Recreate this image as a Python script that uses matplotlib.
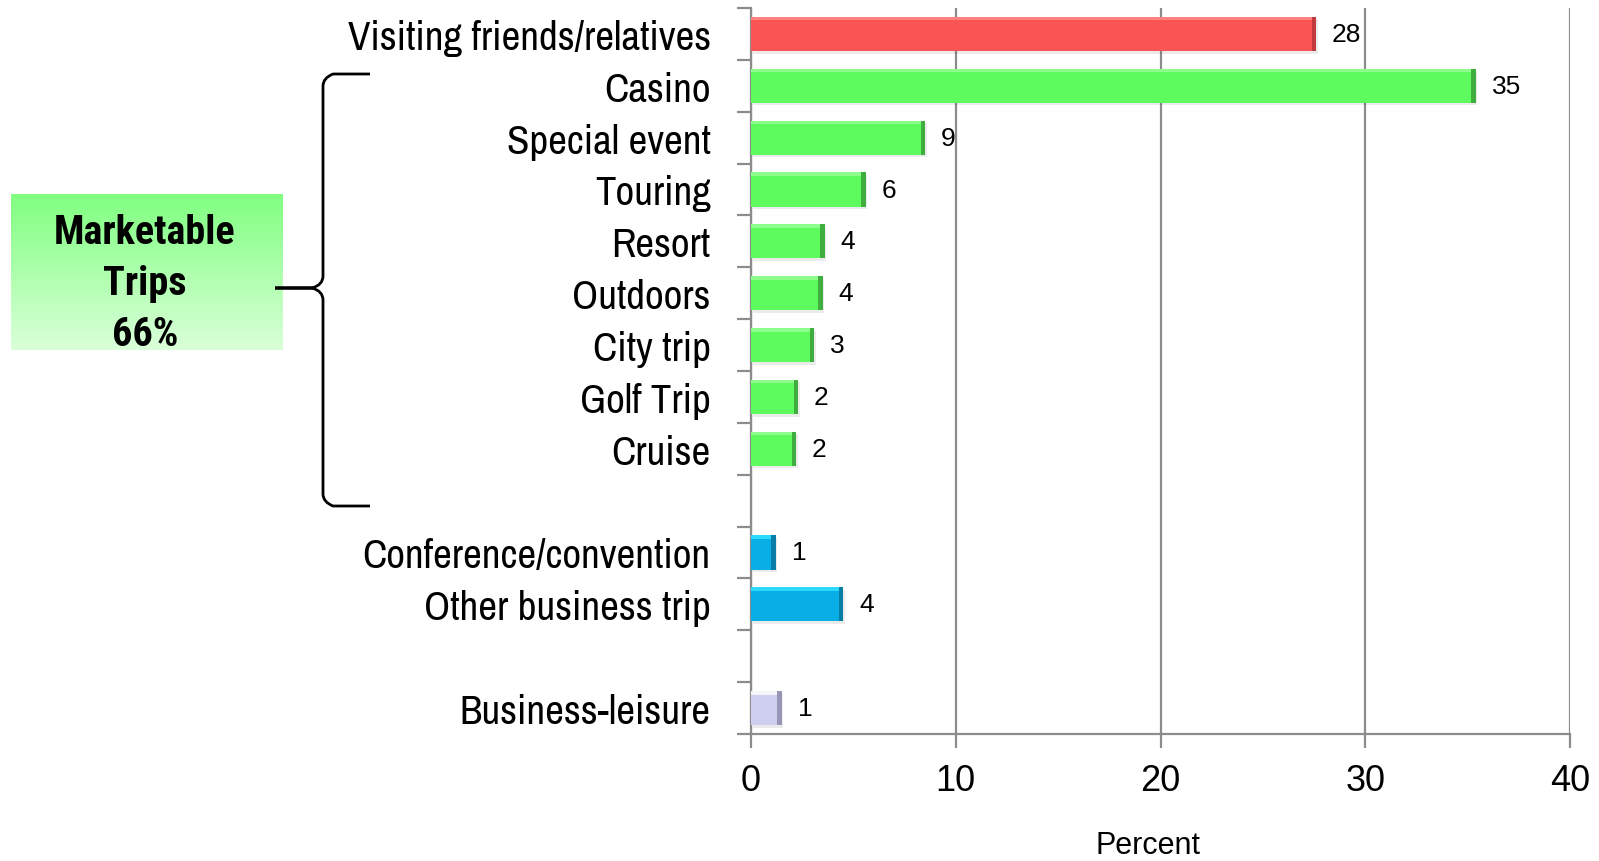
import matplotlib

matplotlib.use("Agg")  # no display
import matplotlib.pyplot as plt
import numpy as np
from matplotlib.path import Path
from matplotlib.patches import PathPatch

plt.rcParams["font.family"] = ["Liberation Sans", "DejaVu Sans"]
NARROW = ["Archivo Narrow", "Liberation Sans", "DejaVu Sans"]
NARROW_BOLD = ["Roboto Condensed", "Liberation Sans", "DejaVu Sans"]

# rows top -> bottom; "" marks an empty spacer row
categories = [
    "Visiting friends/relatives", "Casino", "Special event", "Touring", "Resort",
    "Outdoors", "City trip", "Golf Trip", "Cruise", "",
    "Conference/convention", "Other business trip", "", "Business-leisure",
]
values = [27.6, 35.4, 8.5, 5.6, 3.6, 3.5, 3.1, 2.3, 2.2, np.nan, 1.2, 4.5, np.nan, 1.5]
value_labels = ["28", "35", "9", "6", "4", "4", "3", "2", "2", "", "1", "4", "", "1"]
groups = ["vfr", "mkt", "mkt", "mkt", "mkt", "mkt", "mkt", "mkt", "mkt", "",
          "biz", "biz", "", "bl"]
x_ticks = [0, 10, 20, 30, 40]
box_lines = ["Marketable", "Trips", "66%"]

# (main fill, top highlight, right edge shade)
palette = {
    "vfr": ("#FA5455", "#FF8080", "#C23B3C"),
    "mkt": ("#5EFB5E", "#8CFF8C", "#3FAE3F"),
    "biz": ("#0AAEE6", "#2BD9FC", "#0A7DA6"),
    "bl": ("#CECEEE", "#F4F4FB", "#9797B5"),
}

W, H = 1599, 862
fig = plt.figure(figsize=(W / 100, H / 100), dpi=100)
ax = fig.add_axes([751 / W, 1 - 735 / H, (1570 - 751) / W, (735 - 9) / H])

y = np.arange(len(categories))
bar_h = 0.66
bevel_x = 0.22   # data units
bevel_y = 0.07   # row units
for yi, v, g in zip(y, values, groups):
    if np.isnan(v):
        continue
    main, light, dark = palette[g]
    # soft shadow
    ax.barh(yi + 0.05, v, height=bar_h, left=0.08, color="#000000", alpha=0.08, zorder=2)
    ax.barh(yi, v, height=bar_h, color=main, zorder=3)
    ax.barh(yi - bar_h / 2 + bevel_y / 2, v, height=bevel_y, color=light, zorder=4)
    ax.barh(yi, bevel_x, height=bar_h, left=v - bevel_x, color=dark, zorder=5)

for yi, v, lab in zip(y, values, value_labels):
    if not lab:
        continue
    ax.annotate(lab, (v, yi), xytext=(11.5, 0), textcoords="offset points",
                ha="left", va="center", fontsize=19)

ax.set_xlim(0, 40)
ax.set_ylim(len(categories) - 0.5, -0.5)
ax.set_xticks(x_ticks)
ax.set_yticks(y)
ax.set_yticklabels(categories, family=NARROW, fontsize=29.5)
ax.set_yticks(np.arange(len(categories) + 1) - 0.5, minor=True)
ax.tick_params(axis="y", which="major", length=0, pad=29)
ax.tick_params(axis="y", which="minor", length=10, width=1.6, color="#8C8C8C")
ax.tick_params(axis="x", length=10, width=1.6, color="#8C8C8C", labelsize=26, pad=11)

ax.grid(axis="x", color="#8C8C8C", linewidth=1.6, zorder=0)
ax.set_axisbelow(True)
for s in ["top", "right"]:
    ax.spines[s].set_visible(False)
for s in ["left", "bottom"]:
    ax.spines[s].set_color("#8C8C8C")
    ax.spines[s].set_linewidth(1.6)

ax.set_xlabel("Percent", fontsize=22)
ax.xaxis.set_label_coords(0.485, -0.153)
ax.xaxis.label.set_va("center")

# gradient box on the left
bax = fig.add_axes([11 / W, 1 - 351 / H, 272 / W, 156 / H])
top_c = np.array([0x80, 0xFF, 0x80]) / 255
bot_c = np.array([0xDA, 0xFF, 0xDA]) / 255
t = np.linspace(0, 1, 256)[:, None]
grad = (top_c * (1 - t) + bot_c * t)[:, None, :]
bax.imshow(grad, aspect="auto", extent=(0, 1, 0, 1))
bax.axis("off")
for i, line in enumerate(box_lines):
    fig.text(145 / W, 1 - (233 + 51 * i) / H, line, ha="center", va="center",
             fontsize=29, fontweight="bold", family=NARROW_BOLD)

# curly brace joining the box to the marketable rows
def px(x, yy):
    return (x / W, 1 - yy / H)

xv, top, mid, bot = 323, 75, 289, 507
verts = [px(370, top), px(333, top), px(xv, top + 4), px(xv, top + 12),
         px(xv, mid - 12),
         px(xv, mid - 3), px(312, mid), px(275, mid),
         px(312, mid), px(xv, mid + 3), px(xv, mid + 12),
         px(xv, bot - 12),
         px(xv, bot - 4), px(333, bot), px(370, bot)]
codes = [Path.MOVETO, Path.LINETO, Path.CURVE3, Path.CURVE3,
         Path.LINETO,
         Path.CURVE3, Path.CURVE3, Path.LINETO,
         Path.LINETO, Path.CURVE3, Path.CURVE3,
         Path.LINETO,
         Path.CURVE3, Path.CURVE3, Path.LINETO]
fig.patches.append(PathPatch(Path(verts, codes), transform=fig.transFigure,
                             fill=False, lw=2, color="black"))

fig.savefig("out.png", dpi=100)
plt.close(fig)
